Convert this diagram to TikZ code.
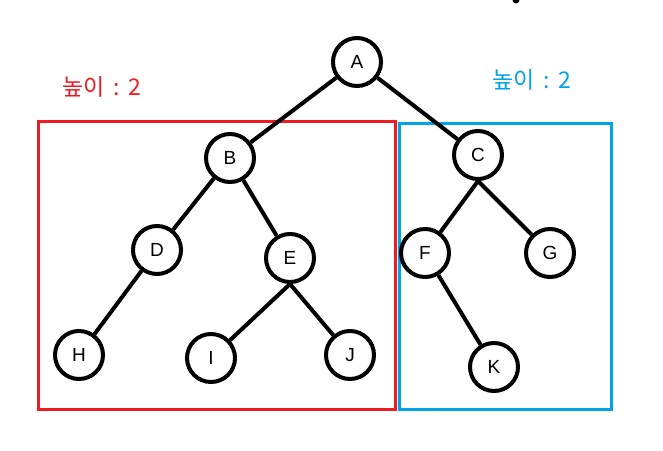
\documentclass[tikz,border=0pt]{standalone}
\usepackage{fontspec}
\setmainfont{Liberation Sans}
\newfontfamily\korfont{Noto Sans CJK KR}
\usepackage{xcolor}
\usetikzlibrary{positioning}
\definecolor{HRed}{RGB}{237,28,36}
\definecolor{HBlue}{RGB}{0,162,232}

\tikzset{
  tnode/.style={circle, draw=black, line width=4pt, minimum size=48pt, inner sep=0pt, font=\fontsize{19}{19}\selectfont},
  tedge/.style={line width=4pt},
  hbox/.style={line width=3pt},
  hlabel/.style={font=\korfont\fontsize{23}{23}\selectfont}
}

\begin{document}
\begin{tikzpicture}[x=1pt,y=-1pt]
        \useasboundingbox (0,0) rectangle (663,450);

        % subtree boxes
        \node[hbox, draw=HRed, minimum width=357pt, minimum height=288pt, inner sep=0pt, anchor=north west] (lbox) at (37,120) {};
        \node[hbox, draw=HBlue, minimum width=212pt, minimum height=286pt, inner sep=0pt, anchor=north west] (rbox) at (398,122) {};
        \node[hlabel, text=HRed] (lh) at (102,87) {높이\ \,:\ \,2};
        \node[hlabel, text=HBlue] (rh) at (532,80) {높이\ \,:\ \,2};

        % tree
        \node[tnode] (A) at (357,62) {A};
        \node[tnode] (B) at (230,158) {B};
        \node[tnode] (C) at (478,155) {C};
        \node[tnode] (D) at (157,250) {D};
        \node[tnode] (E) at (290,258) {E};
        \node[tnode] (F) at (425,253) {F};
        \node[tnode] (G) at (550,253) {G};
        \node[tnode] (H) at (79,355) {H};
        \node[tnode] (I) at (211,358) {I};
        \node[tnode] (J) at (350,355) {J};
        \node[tnode] (K) at (494,367) {K};

        \draw[tedge] (A) -- (B);
        \draw[tedge] (A) -- (C);
        \draw[tedge] (B) -- (D);
        \draw[tedge] (B) -- (E);
        \draw[tedge] (C.south) -- (F);
        \draw[tedge] (C.south) -- (G);
        \draw[tedge] (D) -- (H);
        \draw[tedge] (E.south) -- (I);
        \draw[tedge] (E.south) -- (J);
        \draw[tedge] (F) -- (K);

        % stray mark at top
        \fill (516,0) circle (3.5);
      \end{tikzpicture}
\end{document}
